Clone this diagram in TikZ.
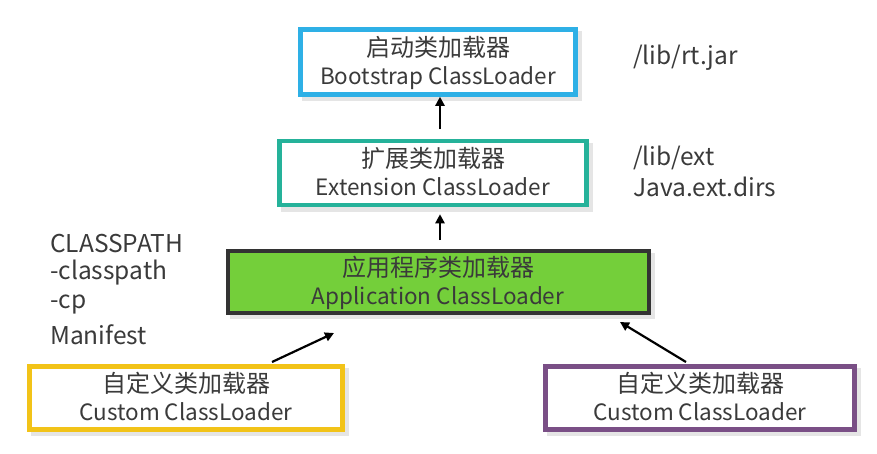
\documentclass[tikz,border=0pt]{standalone}
\usepackage{fontspec}
\setmainfont{Noto Sans CJK SC}
\usetikzlibrary{arrows.meta}
\definecolor{txt}{HTML}{3A3A3A}
\definecolor{cblue}{HTML}{2EB0E6}
\definecolor{cteal}{HTML}{25B29A}
\definecolor{cgreen}{HTML}{74CF3A}
\definecolor{cdark}{HTML}{333333}
\definecolor{cyellow}{HTML}{F2C318}
\definecolor{cpurple}{HTML}{7A4F86}
\newcommand{\zh}[1]{{\fontsize{24}{28}\selectfont #1}}
\tikzset{
  x=1pt,y=-1pt,
  loader/.style={draw, line width=4.5pt, fill=white, inner sep=0pt, align=center,
     text=txt, font=\fontsize{22.5}{28}\selectfont, text depth=3pt},
  arr/.style={line width=2.2pt, -{Triangle[length=9pt,width=9pt]}},
  side/.style={anchor=west, text=txt, font=\fontsize{24.5}{30}\selectfont, inner sep=0pt, align=left}
}
\begin{document}
\begin{tikzpicture}
\useasboundingbox[fill=white] (0,0) rectangle (877,453);
% shadows
\fill[black!10] (302,31) rectangle (582,101);
\fill[black!10] (281,143) rectangle (593,212);
\fill[black!10] (230,253) rectangle (655,319);
\fill[black!10] (31,368) rectangle (349,436);
\fill[black!10] (547,368) rectangle (861,436);
\node[loader, draw=cblue, minimum width=275pt, minimum height=65pt] (boot) at (438,62)
  {\zh{启动类加载器}\\Bootstrap ClassLoader};
\node[loader, draw=cteal, minimum width=307pt, minimum height=64pt] (ext) at (433,173)
  {\zh{扩展类加载器}\\Extension ClassLoader};
\node[loader, draw=cdark, line width=4pt, fill=cgreen, minimum width=421pt, minimum height=62pt] (app) at (438,282)
  {\zh{应用程序类加载器}\\Application ClassLoader};
\node[loader, draw=cyellow, minimum width=313pt, minimum height=63pt] (c1) at (186,398)
  {\zh{自定义类加载器}\\Custom ClassLoader};
\node[loader, draw=cpurple, minimum width=309pt, minimum height=63pt] (c2) at (700,398)
  {\zh{自定义类加载器}\\Custom ClassLoader};
\coordinate (b1) at (440,100);
\coordinate (a1) at (440,129);
\draw[arr] (a1) -- (b1 |- boot.south);
\coordinate (e1) at (440,240);
\draw[arr, shorten >=7pt] (e1) -- (e1 |- ext.south);
\coordinate (l1) at (272,362);
\coordinate (l2) at (334,333);
\draw[arr] (l1) -- (l2);
\coordinate (r1) at (686,362);
\coordinate (r2) at (620,322);
\draw[arr] (r1) -- (r2);
\node[side] (t1) at (633,58) {/lib/rt.jar};
\node[side] (t2) at (633,158) {/lib/ext};
\node[side] (t3) at (633,187) {Java.ext.dirs};
\node[side] (s1) at (50,244) {CLASSPATH};
\node[side] (s2) at (50,273) {-classpath};
\node[side] (s3) at (50,304) {-cp};
\node[side] (s4) at (50,335) {Manifest};
\end{tikzpicture}
\end{document}
